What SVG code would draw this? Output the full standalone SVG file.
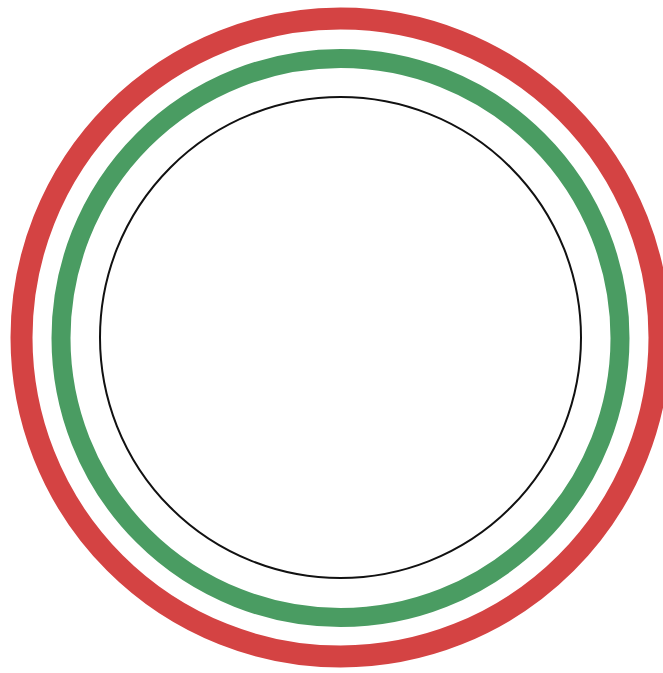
<svg xmlns="http://www.w3.org/2000/svg" width="663" height="673" viewBox="0 0 663 673">
<style>
.ring{fill:none}
.red{stroke:#d44343;stroke-width:22}
.green{stroke:#4a9c62;stroke-width:19}
.black{stroke:#111;stroke-width:2}
</style>
<rect width="663" height="673" fill="#fff"/>
<g id="outer-ring"><circle class="ring red" cx="340.5" cy="337.5" r="319"/></g>
<g id="middle-ring"><circle class="ring green" cx="340.5" cy="338" r="279.5"/></g>
<g id="inner-ring"><circle class="ring black" cx="340.5" cy="337.5" r="240.5"/></g>
</svg>
